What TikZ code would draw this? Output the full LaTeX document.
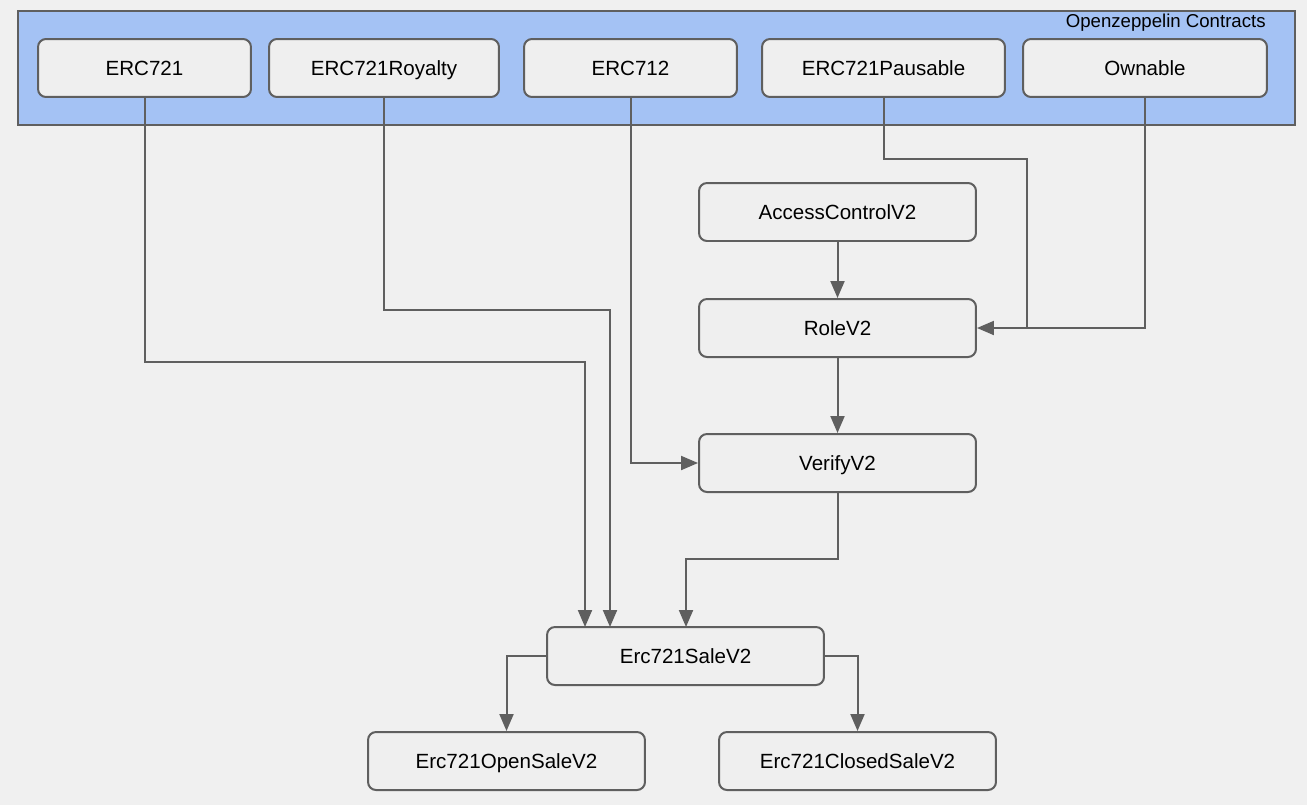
\documentclass[tikz,border=0pt]{standalone}
\usepackage{fontspec}
\setmainfont{Liberation Sans}
\usepackage{tikz}
\usetikzlibrary{arrows.meta}
\usepackage{xcolor}
\definecolor{ColBg}{RGB}{240,240,240}
\definecolor{ColBlue}{RGB}{164,194,244}
\definecolor{ColLine}{RGB}{95,95,95}
\definecolor{ColNode}{RGB}{239,239,239}
\tikzstyle{NodeBox}=[rectangle,rounded corners=0.16cm,draw=ColLine,fill=ColNode,line width=0.04cm,
minimum height=1.16cm,inner sep=0pt,text height=8.4pt,text depth=0pt,font=\fontsize{11.7}{14}\selectfont]
\tikzstyle{EdgeBox}=[ColLine,line width=0.04cm,-{Triangle[length=0.34cm,width=0.28cm]}]
\tikzstyle{EdgePlain}=[ColLine,line width=0.04cm]

\begin{document}
\begin{tikzpicture}[x=0.02cm,y=-0.02cm]
        \useasboundingbox[fill=ColBg](0,0)rectangle(1307,805);
        % library frame
        \draw[ColLine,fill=ColBlue,line width=0.04cm](18,11)rectangle(1295,125);
        \node[anchor=east,inner sep=0pt,font=\fontsize{10.6}{12}\selectfont](oz)at(1266,23){Openzeppelin Contracts};
        \node[NodeBox,minimum width=4.26cm](erc)at(144.5,68){ERC721};
        \node[NodeBox,minimum width=4.6cm](roy)at(384,68){ERC721Royalty};
        \node[NodeBox,minimum width=4.26cm](eip)at(630.5,68){ERC712};
        \node[NodeBox,minimum width=4.86cm](pau)at(883.5,68){ERC721Pausable};
        \node[NodeBox,minimum width=4.88cm](own)at(1145,68){Ownable};
        % own contracts
        \node[NodeBox,minimum width=5.54cm](acc)at(837.5,212){AccessControlV2};
        \node[NodeBox,minimum width=5.54cm](role)at(837.5,328){RoleV2};
        \node[NodeBox,minimum width=5.54cm](ver)at(837.5,463){VerifyV2};
        \node[NodeBox,minimum width=5.54cm](sale)at(685.5,656){Erc721SaleV2};
        \node[NodeBox,minimum width=5.54cm](open)at(506.5,761){Erc721OpenSaleV2};
        \node[NodeBox,minimum width=5.54cm](closed)at(857.5,761){Erc721ClosedSaleV2};
        \coordinate(inA)at(585,627);
        \coordinate(inB)at(610,627);
        \coordinate(inC)at(686,627);
        \coordinate(pj)at(1027,328);
        \draw[EdgeBox](erc.south)--(erc.south|-0,362)-|(inA);
        \draw[EdgeBox](roy.south)--(roy.south|-0,310)-|(inB);
        \draw[EdgeBox](eip.south)|-(ver.west);
        \draw[EdgePlain](pau.south)--(pau.south|-0,159)-|(pj);
        \draw[EdgeBox](own.south)|-(role.east);
        \draw[EdgeBox](acc)--(role);
        \draw[EdgeBox](role)--(ver);
        \draw[EdgeBox](ver.south)--(ver.south|-0,559)-|(inC);
        \draw[EdgeBox](sale.west)-|(open.north);
        \draw[EdgeBox](sale.east)-|(closed.north);
    \end{tikzpicture}
\end{document}
